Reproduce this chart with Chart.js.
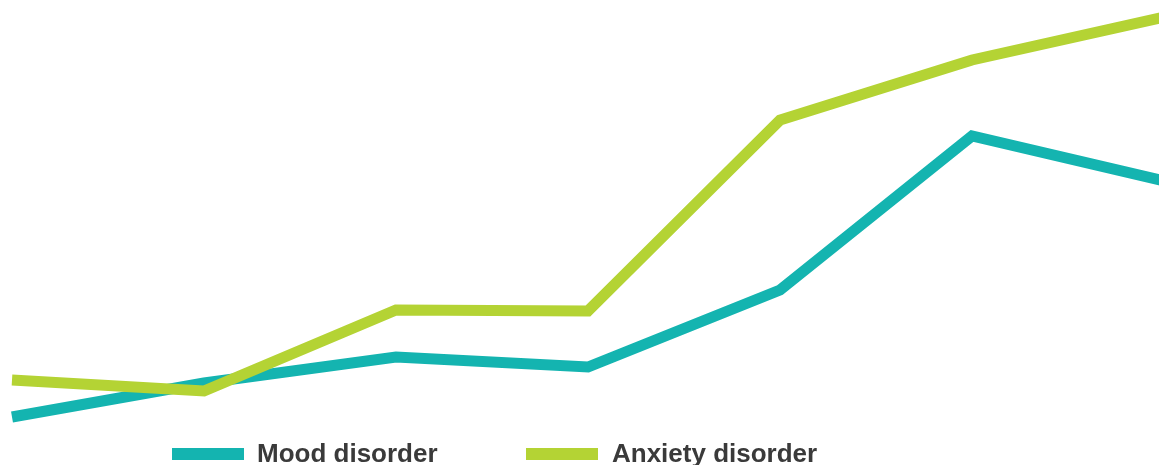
<!DOCTYPE html>
<html>
<head>
<meta charset="utf-8">
<script src="https://cdn.jsdelivr.net/npm/chart.js@4/dist/chart.umd.min.js"></script>
<style>
  html, body { margin: 0; padding: 0; background: #ffffff; overflow: hidden; }
  #wrap { position: relative; width: 1159px; height: 465px; overflow: hidden; }
  #plot { position: absolute; left: 0; top: 0; }
  .legend { position: absolute; top: 440px; left: 0; height: 26px;
            font-family: "Liberation Sans", Arial, sans-serif; font-weight: bold;
            font-size: 26px; line-height: 26px; color: #3a3a3a; white-space: nowrap; }
  .swatch { position: absolute; top: 8px; width: 72px; height: 12px; }
  .label { position: absolute; top: 0; }
</style>
</head>
<body>
<div id="wrap">
  <canvas id="plot" width="1164" height="465"></canvas>
  <div class="legend" id="legend"></div>
</div>
<script>
// Survey waves (x positions) and the share reporting each disorder
const waves = ['W1', 'W2', 'W3', 'W4', 'W5', 'W6', 'W7'];
const moodDisorder = [4.8, 8.2, 10.8, 9.8, 17.5, 32.9, 28.4];
const anxietyDisorder = [8.5, 7.4, 15.5, 15.4, 34.5, 40.5, 44.8];

const seriesNames = ['Mood disorder', 'Anxiety disorder'];
const seriesColors = ['#14b4b0', '#b4d334'];

new Chart(document.getElementById('plot'), {
  type: 'line',
  data: {
    labels: waves,
    datasets: [
      { label: seriesNames[0], data: moodDisorder, borderColor: seriesColors[0],
        backgroundColor: seriesColors[0], borderWidth: 11, pointRadius: 0,
        tension: 0, fill: false, order: 2 },
      { label: seriesNames[1], data: anxietyDisorder, borderColor: seriesColors[1],
        backgroundColor: seriesColors[1], borderWidth: 11, pointRadius: 0,
        tension: 0, fill: false, order: 1 }
    ]
  },
  options: {
    responsive: false,
    animation: false,
    layout: { padding: { left: 12, right: 0, top: 0, bottom: 0 } },
    plugins: { legend: { display: false }, tooltip: { enabled: false } },
    scales: {
      x: { display: false, offset: false },
      y: { display: false, min: 0, max: 46.5 }
    }
  }
});

// Legend row beneath the plot
const legend = document.getElementById('legend');
const legendX = [[172, 257], [526, 612]];
seriesNames.forEach((name, i) => {
  const sw = document.createElement('div');
  sw.className = 'swatch';
  sw.style.left = legendX[i][0] + 'px';
  sw.style.background = seriesColors[i];
  const tx = document.createElement('div');
  tx.className = 'label';
  tx.style.left = legendX[i][1] + 'px';
  tx.textContent = name;
  legend.appendChild(sw);
  legend.appendChild(tx);
});
</script>
</body>
</html>
